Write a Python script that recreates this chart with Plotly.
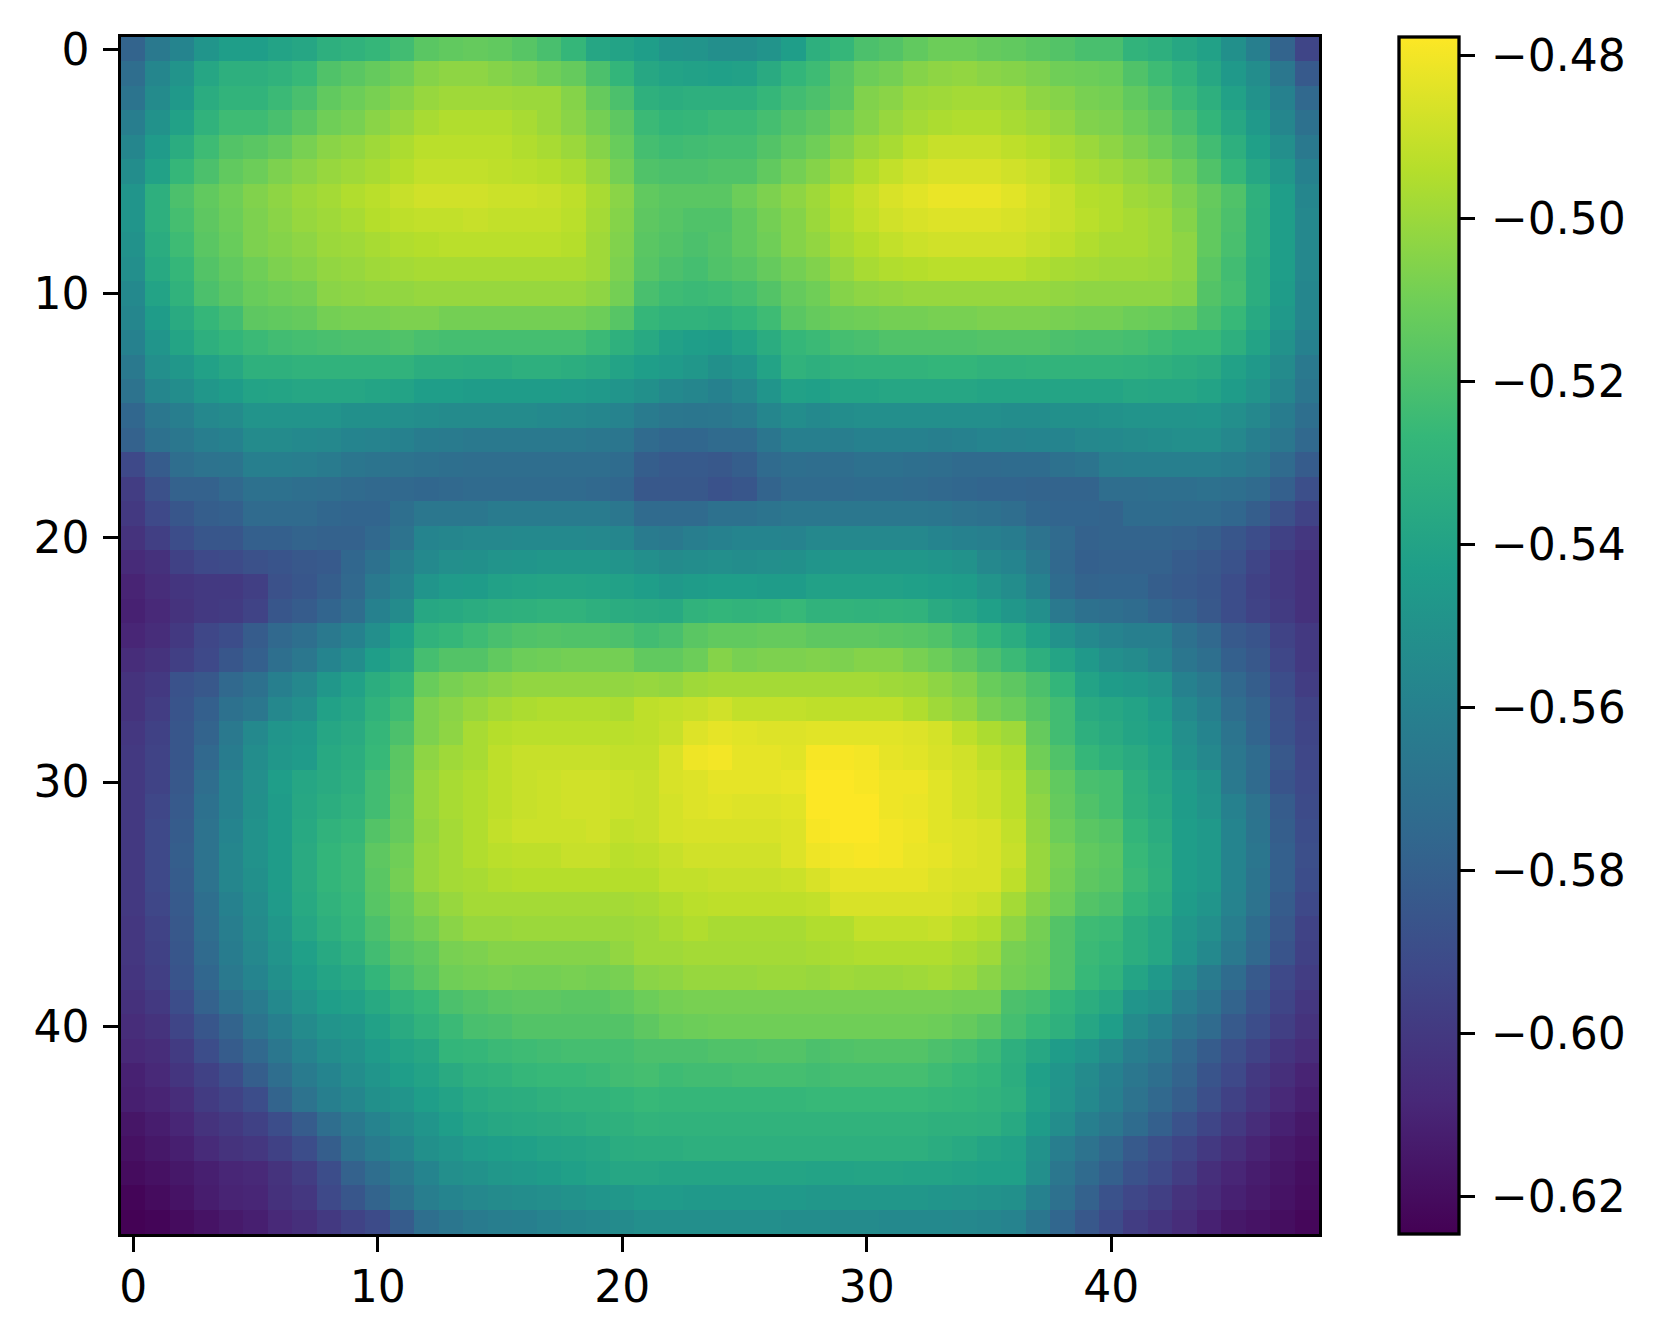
import plotly.graph_objects as go

# cell values, in thousandths of minus one (560 means -0.560)
r00=[578,565,558,548,543,543,540,538,532,530,527,523,516,514,513,514,517,521,527,538,540,543,548,549,552,552,549,543,532,527,520,518,514,511,511,513,514,516,518,521,521,529,532,537,541,551,561,578,594]
r01=[572,557,549,538,532,532,530,526,519,516,513,510,505,503,503,505,507,510,513,520,528,537,540,541,542,541,535,528,524,517,511,509,505,503,502,504,505,507,510,511,512,519,524,529,537,546,553,566,583]
r02=[568,554,546,534,529,529,525,521,514,511,508,505,501,499,499,499,500,500,505,513,520,531,533,532,532,532,527,523,520,516,506,504,500,499,498,498,499,503,505,508,509,514,519,525,532,541,550,560,575]
r03=[562,550,541,530,524,524,521,516,510,508,504,501,497,495,495,495,497,500,504,509,515,525,528,527,525,525,522,518,515,510,505,501,498,496,495,495,497,499,502,506,507,511,515,521,528,537,546,557,570]
r04=[557,545,534,524,518,516,513,508,504,502,499,496,493,493,493,493,495,497,500,505,512,522,524,523,522,522,518,514,510,505,500,497,493,490,490,490,492,494,497,500,503,507,511,516,523,532,542,552,565]
r05=[553,541,527,520,514,511,507,504,501,499,497,494,491,491,491,492,493,494,496,501,509,519,520,520,519,519,514,509,505,500,495,491,488,486,486,486,488,490,494,497,499,502,505,511,519,527,538,547,560]
r06=[548,532,520,514,510,506,503,500,498,495,493,490,488,488,488,489,489,490,492,497,504,514,516,516,516,511,507,503,499,494,490,486,484,482,482,482,484,487,490,494,495,499,501,507,513,519,531,543,557]
r07=[548,532,522,515,511,507,504,501,499,497,494,492,491,491,490,491,491,491,493,498,505,515,517,519,519,514,509,505,500,495,491,488,486,485,485,485,486,488,490,493,495,497,499,505,514,520,532,543,556]
r08=[550,534,524,516,512,507,505,503,500,499,497,495,494,493,493,493,493,493,494,499,506,516,518,520,518,514,510,505,502,497,494,491,489,488,488,488,488,490,492,495,497,497,499,503,514,521,532,543,556]
r09=[552,536,527,518,514,510,507,505,502,501,499,498,497,497,497,497,497,497,497,499,507,517,520,522,519,517,513,509,506,501,497,495,494,493,493,493,493,495,497,498,499,499,500,503,516,523,533,543,556]
r10=[555,540,530,520,516,512,510,509,504,503,502,502,501,501,501,501,501,501,501,503,509,521,524,525,524,522,518,513,510,505,503,502,501,501,501,501,501,501,502,503,503,503,503,505,518,522,533,544,557]
r11=[557,544,535,527,523,515,514,513,509,508,508,507,507,509,509,509,509,509,509,511,517,527,530,530,531,528,524,516,513,511,510,509,509,508,508,507,507,507,508,509,509,511,512,514,521,526,536,546,557]
r12=[560,548,539,532,528,525,523,522,521,520,520,519,521,522,522,522,522,522,522,525,531,536,541,543,544,540,534,527,525,522,521,519,519,519,519,518,518,518,520,521,521,522,524,526,526,532,540,550,560]
r13=[565,552,547,541,537,531,531,530,530,530,530,530,533,533,534,534,532,532,533,535,540,543,545,547,551,548,540,530,532,530,529,529,529,528,528,530,530,529,529,529,529,530,531,533,535,541,546,554,565]
r14=[569,557,553,547,544,540,539,538,538,538,539,540,543,543,544,544,544,544,545,546,548,551,555,557,560,556,548,541,542,539,539,538,538,538,538,539,539,539,539,539,539,537,538,538,540,544,549,557,567]
r15=[576,566,562,556,554,549,549,549,549,551,551,552,553,554,554,554,554,555,556,557,559,564,566,567,566,564,557,553,555,553,552,552,552,552,552,552,553,553,551,551,550,549,549,549,548,552,556,563,571]
r16=[579,570,566,562,560,554,554,555,556,558,559,560,563,564,565,565,565,565,565,566,567,574,576,576,574,574,567,561,561,562,560,560,560,561,560,558,559,558,558,556,555,554,553,552,552,556,561,566,575]
r17=[592,582,572,569,568,561,561,562,564,567,568,569,570,571,572,572,572,572,572,572,573,581,583,583,584,581,574,571,572,572,570,570,571,572,574,574,573,573,570,568,562,561,561,561,561,563,566,574,582]
r18=[598,588,579,579,575,570,570,571,572,574,575,575,576,575,574,574,574,574,574,575,576,584,584,584,587,585,578,574,574,574,573,573,574,575,576,577,577,578,578,578,572,572,571,571,570,571,574,580,589]
r19=[600,592,585,581,580,574,574,574,576,577,577,571,566,566,566,564,564,564,564,564,566,574,574,574,570,570,568,566,566,566,566,566,566,567,569,570,572,576,577,577,578,573,573,574,574,576,581,588,595]
r20=[603,597,590,585,585,580,580,578,579,579,575,569,558,557,556,556,555,555,555,556,557,564,565,562,560,558,558,559,556,556,556,556,556,558,560,561,563,569,574,579,578,578,578,579,581,585,590,596,601]
r21=[607,604,596,592,591,588,586,584,583,576,570,562,555,552,551,549,548,547,547,547,549,552,554,553,552,553,552,551,548,547,547,547,547,548,550,556,558,565,575,580,579,579,579,582,584,587,594,600,604]
r22=[610,606,602,600,600,597,588,585,581,575,565,559,548,545,544,541,540,539,539,540,541,543,546,544,543,543,544,544,541,541,541,541,542,543,544,549,553,560,573,578,577,577,581,583,585,590,596,600,604]
r23=[611,608,603,600,599,595,585,582,577,572,560,554,537,536,534,532,531,530,530,532,534,535,536,530,528,529,528,526,530,529,530,529,530,535,538,542,547,552,565,570,571,573,577,580,584,590,595,599,604]
r24=[609,606,600,593,590,582,575,571,565,560,552,542,530,527,524,521,519,518,519,519,520,523,521,516,514,514,513,513,515,515,515,516,517,519,523,528,534,541,550,555,559,561,561,570,575,583,586,595,600]
r25=[606,603,597,592,585,580,571,566,558,553,543,538,522,518,518,514,511,510,509,509,509,514,514,511,505,508,507,507,506,507,505,505,508,511,515,520,525,532,539,546,552,554,559,567,571,580,584,593,600]
r26=[603,600,587,584,575,570,561,556,547,541,533,528,512,508,506,504,502,502,502,502,502,501,502,499,498,498,498,498,498,498,498,499,500,503,506,512,515,520,528,540,544,546,549,560,565,575,581,590,598]
r27=[603,598,586,580,570,566,556,552,541,538,530,524,507,504,501,498,496,495,495,495,496,492,491,490,488,491,491,491,492,492,492,492,495,499,502,508,511,517,523,535,537,540,545,555,561,572,578,588,595]
r28=[601,596,585,578,565,555,548,546,538,535,527,520,507,503,497,494,493,493,493,493,493,492,490,485,483,484,485,485,484,484,484,484,485,487,492,496,499,513,523,532,535,539,542,552,558,568,577,587,594]
r29=[600,595,585,575,563,553,547,545,536,533,526,516,503,499,497,492,490,490,490,490,491,491,486,481,480,483,483,484,479,479,480,483,484,486,488,492,495,510,519,527,531,535,540,550,556,566,573,584,593]
r30=[600,595,584,572,560,552,543,538,535,532,523,515,501,497,495,492,490,489,488,488,489,490,486,485,483,483,483,482,478,478,479,481,481,484,487,489,493,505,514,521,522,532,538,545,550,565,574,586,592]
r31=[600,593,583,570,560,551,544,537,533,530,523,514,501,497,495,492,490,489,488,488,489,490,487,485,484,485,485,484,478,478,478,481,482,484,487,489,493,503,513,519,522,531,536,544,549,560,569,582,591]
r32=[600,592,582,569,558,550,544,536,530,527,518,513,502,498,495,491,489,489,489,488,491,490,487,486,486,486,486,485,479,478,478,480,481,484,485,486,491,502,511,516,518,528,534,543,546,558,568,581,590]
r33=[600,592,581,569,557,550,544,535,528,525,515,510,501,498,495,493,492,492,490,490,493,492,490,488,488,488,488,485,481,480,479,480,482,483,485,486,490,501,508,514,516,526,532,543,546,558,567,580,589]
r34=[600,592,582,569,557,551,544,535,528,525,516,509,501,498,497,495,494,494,494,494,494,494,491,491,490,490,490,489,486,483,483,483,483,485,486,486,492,501,509,515,517,525,531,543,546,558,568,580,590]
r35=[600,593,583,571,560,553,545,536,530,526,517,512,505,501,498,498,498,498,498,498,498,497,495,493,492,492,492,492,491,486,486,486,486,486,488,490,498,505,511,518,520,528,533,544,548,559,569,582,592]
r36=[601,595,584,572,562,554,547,538,532,527,520,513,509,504,501,501,500,500,500,500,500,499,497,495,497,497,497,497,495,495,491,491,491,490,493,495,503,509,518,524,525,533,538,547,552,562,573,584,595]
r37=[601,596,585,574,563,556,549,542,536,531,523,517,514,508,507,505,505,505,505,505,502,499,499,498,498,498,498,498,497,496,495,495,495,495,497,499,508,510,518,525,527,533,538,548,555,565,575,586,596]
r38=[602,597,586,576,565,558,551,544,539,536,528,521,516,510,509,508,509,509,508,509,508,504,503,501,501,501,500,500,501,499,500,500,499,498,500,504,509,511,518,526,530,539,546,555,564,573,583,592,598]
r39=[604,600,590,579,570,564,555,549,543,541,536,530,526,520,518,516,515,515,516,516,514,511,509,508,508,508,508,508,508,508,508,508,508,508,509,509,520,522,528,533,537,548,551,562,568,578,586,594,601]
r40=[606,603,594,585,578,568,561,554,549,547,541,535,530,525,521,520,518,518,518,518,518,515,512,511,510,510,510,510,510,510,510,510,510,511,513,516,522,526,531,538,543,554,560,568,574,583,590,597,603]
r41=[608,606,599,590,582,575,566,559,553,550,545,540,537,528,527,525,524,523,522,522,522,520,520,520,519,519,518,518,520,519,518,518,518,520,522,525,532,537,544,548,554,562,566,575,582,589,595,602,606]
r42=[611,608,602,596,590,581,572,564,558,553,548,543,540,535,531,530,527,526,526,525,523,522,524,523,523,522,522,522,523,522,522,522,522,524,526,528,533,542,548,554,560,566,571,578,586,592,600,605,610]
r43=[612,610,606,599,595,590,578,569,561,557,551,548,543,540,536,534,533,531,530,530,528,526,527,527,527,527,527,527,526,526,526,526,526,527,528,530,532,541,549,555,561,569,575,581,589,596,602,608,612]
r44=[616,613,609,603,600,596,590,582,572,565,559,553,548,543,539,537,536,535,534,532,531,529,530,530,530,530,530,530,530,530,530,530,530,531,531,532,536,544,553,561,566,573,580,587,594,600,606,611,615]
r45=[618,615,612,607,603,601,596,590,581,570,564,558,551,548,545,543,542,540,539,538,534,533,533,532,532,532,532,532,532,532,532,532,532,534,536,539,541,550,562,569,575,583,589,594,600,605,610,614,617]
r46=[620,618,615,612,609,608,603,598,590,579,572,565,558,552,550,547,546,544,542,540,538,538,539,539,539,539,539,539,540,540,539,539,540,540,541,542,542,552,566,574,580,587,592,598,605,609,613,616,619]
r47=[623,620,617,613,610,609,604,601,592,585,578,570,562,558,556,554,553,552,550,548,547,545,545,546,546,546,546,546,547,547,547,547,547,548,549,550,551,560,570,579,587,593,597,603,607,611,614,617,620]
r48=[624,623,620,617,614,612,608,605,600,595,591,582,571,567,564,562,561,559,557,556,554,552,552,552,552,552,552,553,553,554,554,555,555,555,556,557,559,567,576,584,591,598,602,606,611,615,617,619,622]

rows = [r00,r01,r02,r03,r04,r05,r06,r07,r08,r09,r10,r11,r12,r13,r14,r15,r16,r17,r18,r19,r20,r21,r22,r23,r24,
        r25,r26,r27,r28,r29,r30,r31,r32,r33,r34,r35,r36,r37,r38,r39,r40,r41,r42,r43,r44,r45,r46,r47,r48]
for i, r in enumerate(rows):
    assert len(r) == 49, (i, len(r))
z = [[-v / 1000 for v in r] for r in rows]

axis_ticks = [0, 10, 20, 30, 40]
bar_ticks = [-0.62, -0.60, -0.58, -0.56, -0.54, -0.52, -0.50, -0.48]
z_low, z_high = -0.6246, -0.4777

FONT = dict(family="DejaVu Sans", size=44, color="black")
LW = 3.3
PLOT_W = 1540  # width of the plotting region from left margin to page edge

fig = go.Figure(go.Heatmap(
    z=z, colorscale="Viridis", zmin=z_low, zmax=z_high, zsmooth=False,
    colorbar=dict(
        x=1278 / PLOT_W, xanchor="left", xpad=0, y=0.5, yanchor="middle", ypad=0,
        len=1, lenmode="fraction", thickness=60, thicknessmode="pixels",
        outlinewidth=LW, outlinecolor="black",
        tickmode="array", tickvals=bar_ticks, showticklabels=False,
        ticks="outside", ticklen=14.6, tickwidth=LW, tickcolor="black",
    ),
))
# the colour bar's labels, on an axis of the same range beside the bar, so their gap can be set
fig.add_trace(go.Scatter(x=[None], y=[None], yaxis="y2", showlegend=False, hoverinfo="skip"))

common = dict(
    tickmode="array", tickvals=axis_ticks, ticks="outside", ticklen=14.6, tickwidth=LW,
    tickcolor="black", tickfont=FONT, showgrid=False, zeroline=False,
    showline=True, linecolor="black", linewidth=LW, mirror=True,
)
fig.update_xaxes(range=[-0.5, 48.5], domain=[0, 1198 / PLOT_W], ticklabelstandoff=-3, **common)
fig.update_yaxes(range=[48.5, -0.5], ticklabelstandoff=5, **common)
fig.update_layout(
    width=1653, height=1334, paper_bgcolor="white", plot_bgcolor="white",
    margin=dict(l=113, r=0, t=29, b=108, autoexpand=False),
    yaxis2=dict(
        overlaying="y", side="right", anchor="free", position=1338 / PLOT_W,
        range=[z_low, z_high], tickmode="array", tickvals=bar_ticks, tickformat=".2f",
        ticks="", showline=False, showgrid=False, zeroline=False, tickfont=FONT,
        ticklabelstandoff=31,
    ),
)
fig.write_html("out.html")
